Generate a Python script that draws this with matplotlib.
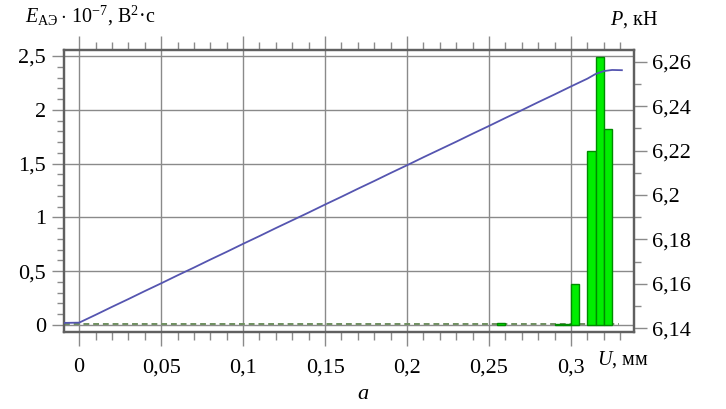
import numpy as np
import matplotlib
matplotlib.use('Agg')
import matplotlib.pyplot as plt

plt.rcParams['font.family'] = ['Liberation Serif', 'DejaVu Serif']
plt.rcParams['mathtext.fontset'] = 'custom'
plt.rcParams['mathtext.rm'] = 'Liberation Serif'
plt.rcParams['mathtext.it'] = 'Liberation Serif:italic'

# AE energy bars (left axis), U in mm
bar_u = [0.2575, 0.2925, 0.2975, 0.3025, 0.3125, 0.3175, 0.3225]
bar_e = [0.02, 0.01, 0.012, 0.38, 1.62, 2.49, 1.82]
bar_w = [0.0048, 0.0048, 0.0048, 0.0045, 0.0052, 0.0048, 0.0052]

# baseline of AE signal
base_u = [-0.009, 0.329]
base_e = [0.01, 0.01]

# load curve P (right axis)
load_u = [-0.009, 0.0, 0.01, 0.02, 0.03, 0.04, 0.05, 0.06, 0.07, 0.08, 0.09,
          0.10, 0.11, 0.12, 0.13, 0.14, 0.15, 0.16, 0.17, 0.18, 0.19, 0.20,
          0.21, 0.22, 0.23, 0.24, 0.25, 0.26, 0.27, 0.28, 0.29, 0.30, 0.31,
          0.315, 0.32, 0.325, 0.331]
load_p = [6.1424, 6.1425, 6.146, 6.1496, 6.1531, 6.1567, 6.1602, 6.1638,
          6.1673, 6.1709, 6.1744, 6.178, 6.1815, 6.1851, 6.1886, 6.1921,
          6.1957, 6.1992, 6.2028, 6.2063, 6.2099, 6.2134, 6.217, 6.2205,
          6.224, 6.2276, 6.2311, 6.2347, 6.2382, 6.2418, 6.2453, 6.2489,
          6.2524, 6.2545, 6.2558, 6.2563, 6.2562]

x_ticks = [0, 0.05, 0.1, 0.15, 0.2, 0.25, 0.3]
x_labels = ['0', '0,05', '0,1', '0,15', '0,2', '0,25', '0,3']
e_ticks = [0, 0.5, 1, 1.5, 2, 2.5]
e_labels = ['0', '0,5', '1', '1,5', '2', '2,5']
p_ticks = [6.14, 6.16, 6.18, 6.2, 6.22, 6.24, 6.26]
p_labels = ['6,14', '6,16', '6,18', '6,2', '6,22', '6,24', '6,26']

grid_c = '#8a8a8a'
spine_c = '#606060'

fig = plt.figure(figsize=(7.26, 4.09), dpi=100)
ax = fig.add_axes([0.0882, 0.1883, 0.7851, 0.6895])
ax2 = ax.twinx()

ax.bar(bar_u, bar_e, width=bar_w, color='#00ee00', edgecolor='#008a00',
       linewidth=1.0, zorder=3)
ax.plot(base_u, base_e, color='#6f8f60', linestyle=(0, (3, 2)), linewidth=1.4,
        zorder=2)
ax2.plot(load_u, load_p, color='#5555b0', linewidth=1.3, zorder=4)

ax.set_xlim(-0.0092, 0.3384)
ax.set_ylim(-0.065, 2.556)
ax2.set_ylim(6.1383, 6.2653)

ax.set_xticks(x_ticks)
ax.set_xticklabels(x_labels)
ax.set_xticks(np.arange(-0.0, 0.335, 0.01), minor=True)
ax.set_yticks(e_ticks)
ax.set_yticklabels(e_labels)
ax.set_yticks(np.arange(0, 2.55, 0.1), minor=True)
ax2.set_yticks(p_ticks)
ax2.set_yticklabels(p_labels)
ax2.set_yticks(np.arange(6.14, 6.265, 0.01), minor=True)

ax.grid(True, which='major', color=grid_c, linewidth=1.0, zorder=0)
ax.set_axisbelow(True)

ax.tick_params(axis='x', which='both', direction='out', top=True,
               bottom=True, color=grid_c, labelsize=16, pad=9)
ax.tick_params(axis='x', which='major', length=10, width=1.0)
ax.tick_params(axis='x', which='minor', length=6, width=1.0)
ax.tick_params(axis='y', which='both', direction='out', color=grid_c,
               labelsize=16, pad=4)
ax.tick_params(axis='y', which='major', length=9, width=1.0)
ax.tick_params(axis='y', which='minor', length=5, width=1.0)
ax2.tick_params(axis='y', which='both', direction='out', color=grid_c,
                labelsize=16, pad=4)
ax2.tick_params(axis='y', which='major', length=9, width=1.0)
ax2.tick_params(axis='y', which='minor', length=5, width=1.0)

for a in (ax, ax2):
    for s in a.spines.values():
        s.set_color(spine_c)
        s.set_linewidth(1.6)

fig.text(0.034, 0.962, r'$\mathit{E}_{\mathrm{АЭ}}\cdot\,10^{-7}$, В$^2$·с',
         fontsize=14.5, ha='left', va='center')
fig.text(0.84, 0.952, r'$\mathit{P}$, кН', fontsize=14.5, ha='left',
         va='center')
fig.text(0.822, 0.12, r'$\mathit{U}$, мм', fontsize=14.5, ha='left',
         va='center')
fig.text(0.5, 0.035, 'а', fontsize=16, fontstyle='italic', ha='center',
         va='center')

fig.savefig('out.png', dpi=100)
